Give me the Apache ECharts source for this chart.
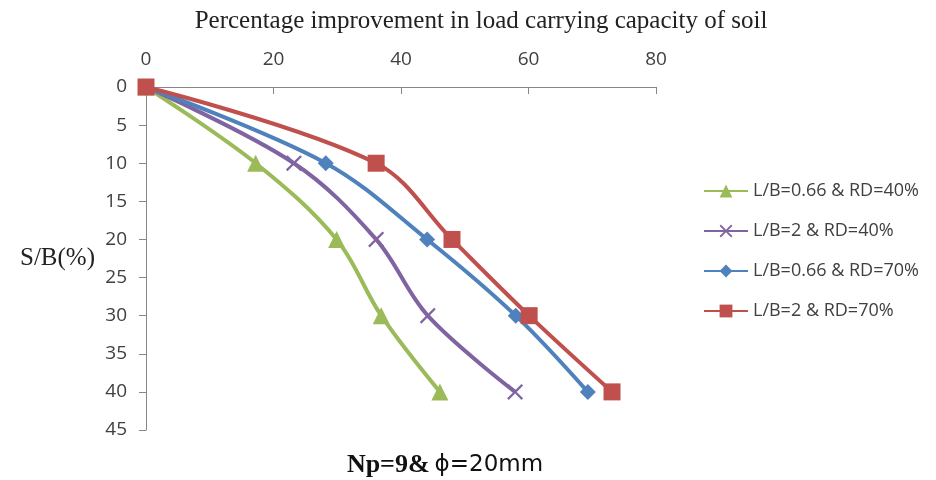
<!DOCTYPE html>
<html><head><meta charset="utf-8">
<script src="https://cdn.jsdelivr.net/npm/echarts@6/dist/echarts.min.js"></script>
<style>html,body{margin:0;padding:0;background:#fff}#c{width:936px;height:480px}</style>
</head><body><div id="c"></div>
<script>
const seriesNames = ['L/B=0.66 & RD=40%', 'L/B=2 & RD=40%', 'L/B=0.66 & RD=70%', 'L/B=2 & RD=70%'];
const sbValues = [0, 10, 20, 30, 40];
const improveGreen = [0, 17.2, 29.9, 36.9, 46.1];
const improvePurple = [0, 23.2, 36.1, 44.2, 57.9];
const improveBlue = [0, 28.2, 44.1, 58.0, 69.3];
const improveRed = [0, 36.1, 48.0, 60.1, 73.1];
const colors = ['#9BBB59', '#8064A2', '#4F81BD', '#C0504D'];
const crossPath = 'path://M0,1L1,0L5,4L9,0L10,1L6,5L10,9L9,10L5,6L1,10L0,9L4,5Z';
const symbols = ['triangle', crossPath, 'diamond', 'rect'];
const symbolSizes = [17, 16, 16, 17];
const allData = [improveGreen, improvePurple, improveBlue, improveRed];

const chart = echarts.init(document.getElementById('c'), null, {renderer: 'canvas'});
const series = seriesNames.map((n, i) => ({
  name: n, type: 'line', smooth: 0.35,
  data: allData[i].map((v, k) => [v, sbValues[k]]),
  symbol: symbols[i], symbolSize: symbolSizes[i],
  lineStyle: {color: colors[i], width: 4},
  itemStyle: {color: colors[i]},
  z: 2 + i
}));
chart.setOption({
  animation: false,
  backgroundColor: '#fff',
  title: [
    {text: 'Percentage improvement in load carrying capacity of soil', left: 476, top: 4, textAlign: 'center',
     textStyle: {fontFamily: 'Liberation Serif', fontSize: 25, fontWeight: 'normal', color: '#222'}},
    {text: '{b|Np=9&} {s|ϕ=20mm}', left: 440, top: 447, textAlign: 'center',
     textStyle: {rich: {
       b: {fontFamily: 'Liberation Serif', fontSize: 26, fontWeight: 'bold', color: '#111'},
       s: {fontFamily: 'DejaVu Sans', fontSize: 23, fontWeight: 'normal', color: '#111'}
     }}}
  ],
  grid: {left: 146, right: 280, top: 87, bottom: 50, containLabel: false, outerBoundsMode: 'none'},
  legend: {
    orient: 'vertical', left: 698, top: 177, itemGap: 22, itemWidth: 44, itemHeight: 16,
    data: seriesNames,
    textStyle: {fontFamily: 'Open Sans', fontSize: 18, color: '#404040'}
  },
  xAxis: {
    type: 'value', position: 'top', min: 0, max: 80, interval: 20,
    axisLine: {show: true, lineStyle: {color: '#868686', width: 1}},
    axisTick: {show: true, inside: true, length: 7, lineStyle: {color: '#868686'}},
    axisLabel: {fontFamily: 'Open Sans', fontSize: 19, color: '#404040', margin: 18},
    splitLine: {show: false}
  },
  yAxis: {
    type: 'value', inverse: true, min: 0, max: 45, interval: 5,
    name: 'S/B(%)', nameLocation: 'middle', nameRotate: 0, nameGap: 51,
    nameTextStyle: {fontFamily: 'Liberation Serif', fontSize: 25, color: '#222'},
    axisLine: {show: true, lineStyle: {color: '#868686', width: 1}},
    axisTick: {show: true, inside: false, length: 7, lineStyle: {color: '#868686'}},
    axisLabel: {fontFamily: 'Open Sans', fontSize: 19, color: '#404040', margin: 19},
    splitLine: {show: false}
  },
  series: series
});
</script></body></html>
